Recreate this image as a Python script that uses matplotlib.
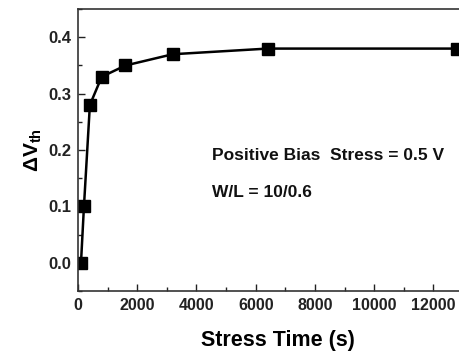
import matplotlib
matplotlib.use("Agg")
import matplotlib.pyplot as plt
from matplotlib.ticker import MultipleLocator

plt.rcParams['font.family'] = ['Liberation Sans', 'DejaVu Sans']
plt.rcParams['mathtext.fontset'] = 'custom'
plt.rcParams['mathtext.rm'] = 'Liberation Sans:bold'
plt.rcParams['mathtext.it'] = 'Liberation Sans:bold'
plt.rcParams['mathtext.bf'] = 'Liberation Sans:bold'

stress_time = [100, 200, 400, 800, 1600, 3200, 6400, 12800]
delta_vth = [0.0, 0.10, 0.28, 0.33, 0.35, 0.37, 0.38, 0.38]
x_ticks = [0, 2000, 4000, 6000, 8000, 10000, 12000]
y_ticks = [0.0, 0.1, 0.2, 0.3, 0.4]

fig = plt.figure(figsize=(4.59, 3.51), dpi=100)
ax = fig.add_axes([0.170, 0.171, 0.871, 0.803])
ax.plot(stress_time, delta_vth, color='black', lw=1.8, marker='s', ms=8.5,
        mfc='black', mec='black')
ax.set_xlim(0, 13500)
ax.set_ylim(-0.05, 0.45)
ax.set_xticks(x_ticks)
ax.set_yticks(y_ticks)
ax.xaxis.set_minor_locator(MultipleLocator(1000))
ax.yaxis.set_minor_locator(MultipleLocator(0.05))
ax.set_xticklabels([str(v) for v in x_ticks], fontweight='bold', fontsize=11.5)
ax.set_yticklabels([f"{v:.1f}" for v in y_ticks], fontweight='bold', fontsize=12)
ax.tick_params(which='major', direction='in', length=5, width=1, colors='#222222',
               labelcolor='#222222', pad=5)
ax.tick_params(which='minor', direction='in', length=3, width=1, colors='#222222')
ax.tick_params(top=False, right=False, which='both')
for s in ax.spines.values():
    s.set_color('#333333')
    s.set_linewidth(1.2)
ax.set_xlabel('Stress Time (s)', fontsize=15.5, fontweight='bold', labelpad=12)
ax.set_ylabel(r'$\Delta$V$_{\mathrm{th}}$', fontsize=15, fontweight='bold', labelpad=3)
ax.text(0.335, 0.482, 'Positive Bias  Stress = 0.5 V', transform=ax.transAxes,
        fontsize=12.5, fontweight='bold', va='center', ha='left', color='#111111')
ax.text(0.335, 0.348, 'W/L = 10/0.6', transform=ax.transAxes,
        fontsize=12.5, fontweight='bold', va='center', ha='left', color='#111111')
fig.savefig('out.png', dpi=100)
